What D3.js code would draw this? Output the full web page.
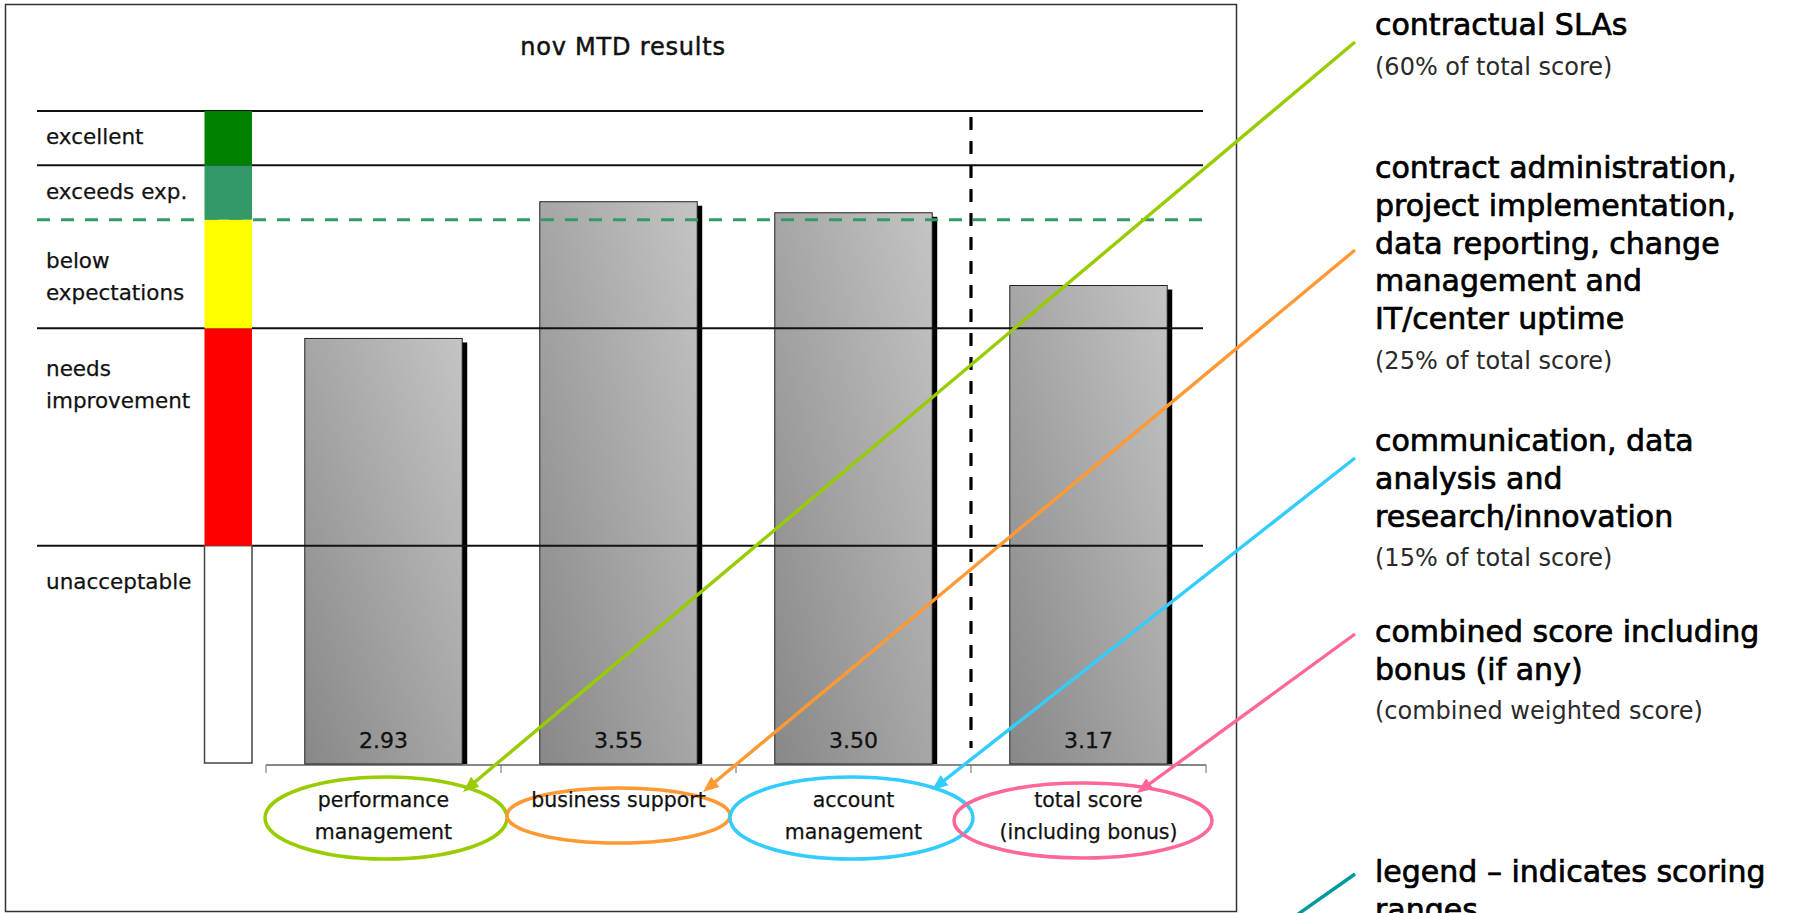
<!DOCTYPE html>
<html>
<head>
<meta charset="utf-8">
<script src="https://cdn.jsdelivr.net/npm/d3@7"></script>
<style>
  html, body { margin: 0; padding: 0; background: #fff; overflow: hidden; }
  svg { display: block; font-family: "DejaVu Sans", Verdana, sans-serif; }
</style>
</head>
<body>
<svg id="chart" width="1805" height="913"></svg>
<script>
// ---- data ----
const chartTitle = "nov MTD results";
const categories = ["performance management", "business support", "account management", "total score (including bonus)"];
const categoryLines = [["performance", "management"], ["business support"], ["account", "management"], ["total score", "(including bonus)"]];
const scores = [2.93, 3.55, 3.50, 3.17];

// scoring ranges, low to high
const bandNames = [["unacceptable"], ["needs", "improvement"], ["below", "expectations"], ["exceeds exp."], ["excellent"]];
const bandBreaks = [1, 2, 3, 3.5, 3.75, 4];
const bandColors = ["#ffffff", "#ff0000", "#ffff00", "#339966", "#008000"];
const targetScore = 3.5;

// notes on the right, one per category plus the scoring legend
const noteHeads = [
  ["contractual SLAs"],
  ["contract administration,", "project implementation,", "data reporting, change", "management and", "IT/center uptime"],
  ["communication, data", "analysis and", "research/innovation"],
  ["combined score including", "bonus (if any)"],
  ["legend – indicates scoring", "ranges"]
];
const noteSubs = ["(60% of total score)", "(25% of total score)", "(15% of total score)", "(combined weighted score)", ""];
const noteColors = ["#99cc00", "#ff9933", "#33ccff", "#ff6699", "#009999"];

// ---- layout ----
const svg = d3.select("#chart");
const defs = svg.append("defs");

const x = d3.scaleBand().domain(categories).range([266, 1206]).paddingInner(0.33).paddingOuter(0.165);
const y = d3.scaleLinear().domain([1, 4]).range([764, 102.5]);      // bar values
const yBand = d3.scaleLinear().domain([1, 4]).range([763, 111]);    // scoring ranges overlay
const baseY = y(1);
const gap = (x.step() - x.bandwidth()) / 2;
const cx = c => x(c) + x.bandwidth() / 2;

const ellipseLayout = [
  { dx: 2.5, cy: 818, rx: 121, ry: 41 },
  { dx: 0, cy: 815.5, rx: 111.5, ry: 27.5 },
  { dx: -2, cy: 818, rx: 121.5, ry: 41 },
  { dx: -5.5, cy: 820.5, rx: 129, ry: 37.5 }
];
const noteX = 1375, lineStartX = 1355;
const noteTop = [35, 178, 451, 642, 882];
const noteLineStartY = [42, 250, 458, 634, 874];
const arrowTip = [
  { dx: 79.5, y: 792 }, { dx: 84.5, y: 792 }, { dx: 78.5, y: 790 }, { dx: 48.5, y: 793 }
];

// frame
svg.append("rect").attr("x", 5.5).attr("y", 4.5).attr("width", 1231).attr("height", 907)
  .attr("fill", "#fff").attr("stroke", "#333").attr("stroke-width", 1.5);

// title
svg.append("text").attr("x", 623).attr("y", 55).attr("text-anchor", "middle")
  .attr("font-size", 24).attr("letter-spacing", 0.8).attr("fill", "#111")
  .attr("stroke", "#111").attr("stroke-width", 0.5).text(chartTitle);

// bar gradient
const grad = defs.append("linearGradient").attr("id", "barFill")
  .attr("x1", 0).attr("y1", 1).attr("x2", 1).attr("y2", 0);
grad.append("stop").attr("offset", 0).attr("stop-color", "#888888");
grad.append("stop").attr("offset", 1).attr("stop-color", "#c4c4c4");

// bars with drop shadow
const bars = svg.append("g");
bars.selectAll("rect.shadow").data(scores).join("rect").attr("class", "shadow")
  .attr("x", (d, i) => x(categories[i]) + 5)
  .attr("y", d => y(d) + 4)
  .attr("width", x.bandwidth())
  .attr("height", d => baseY - y(d) - 4)
  .attr("fill", "#000");
bars.selectAll("rect.bar").data(scores).join("rect").attr("class", "bar")
  .attr("x", (d, i) => x(categories[i]))
  .attr("y", d => y(d))
  .attr("width", x.bandwidth())
  .attr("height", d => baseY - y(d))
  .attr("fill", "url(#barFill)").attr("stroke", "#222").attr("stroke-width", 1);

// scoring range boundaries
const lineX0 = 37, lineX1 = 1203;
svg.append("g").selectAll("line").data(bandBreaks.filter(b => b !== bandBreaks[0] && b !== targetScore)).join("line")
  .attr("x1", lineX0).attr("x2", lineX1)
  .attr("y1", d => yBand(d)).attr("y2", d => yBand(d))
  .attr("stroke", "#111").attr("stroke-width", 2);
svg.append("line").attr("x1", lineX0).attr("x2", 1207)
  .attr("y1", yBand(targetScore)).attr("y2", yBand(targetScore))
  .attr("stroke", "#339966").attr("stroke-width", 3).attr("stroke-dasharray", "13 11");

// colour key column
const keyX = 204.5, keyW = 47.5;
const bandData = bandNames.map((n, i) => ({ name: n, lo: bandBreaks[i], hi: bandBreaks[i + 1], color: bandColors[i] }));
svg.append("g").selectAll("rect").data(bandData).join("rect")
  .attr("x", keyX).attr("width", keyW)
  .attr("y", d => yBand(d.hi))
  .attr("height", d => yBand(d.lo) - yBand(d.hi))
  .attr("fill", d => d.color)
  .attr("stroke", (d, i) => i === 0 ? "#444" : "none")
  .attr("stroke-width", 1.5);

// range labels
const labelOffsets = [43, 48, 48, 34, 33];
svg.append("g").selectAll("text").data(bandData).join("text")
  .attr("x", 46).attr("y", (d, i) => yBand(d.hi) + labelOffsets[i])
  .attr("font-size", 21.5).attr("fill", "#111").attr("stroke", "#111").attr("stroke-width", 0.25)
  .each(function (d) {
    d3.select(this).selectAll("tspan").data(d.name).join("tspan")
      .attr("x", 46).attr("dy", (t, j) => j ? 32 : 0).text(t => t);
  });

// value labels
svg.append("g").selectAll("text").data(scores).join("text")
  .attr("x", (d, i) => cx(categories[i])).attr("y", 748)
  .attr("text-anchor", "middle").attr("font-size", 22).attr("fill", "#111")
  .attr("stroke", "#111").attr("stroke-width", 0.3)
  .text(d3.format(".2f"));

// category axis with boundary ticks
const axisY = baseY + 1;
const bounds = categories.map(c => x(c) - gap).concat([x(categories[categories.length - 1]) + x.bandwidth() + gap]);
svg.append("line").attr("x1", bounds[0]).attr("x2", bounds[bounds.length - 1])
  .attr("y1", axisY).attr("y2", axisY).attr("stroke", "#111").attr("stroke-width", 1.2);
svg.append("g").selectAll("line").data(bounds).join("line")
  .attr("x1", d => d).attr("x2", d => d).attr("y1", axisY).attr("y2", axisY + 8)
  .attr("stroke", "#666").attr("stroke-width", 1);

// divider before the total score
const divX = x(categories[3]) - gap;
svg.append("line").attr("x1", divX).attr("x2", divX).attr("y1", 117).attr("y2", 748)
  .attr("stroke", "#000").attr("stroke-width", 3.2).attr("stroke-dasharray", "13 11");

// circled category labels
const cat = svg.append("g");
categories.forEach((c, i) => {
  const e = ellipseLayout[i];
  cat.append("ellipse").attr("cx", cx(c) + e.dx).attr("cy", e.cy).attr("rx", e.rx).attr("ry", e.ry)
    .attr("fill", "none").attr("stroke", noteColors[i]).attr("stroke-width", 3.5);
  const t = cat.append("text").attr("text-anchor", "middle").attr("font-size", 20.5).attr("fill", "#111")
    .attr("stroke", "#111").attr("stroke-width", 0.25).attr("y", 807);
  t.selectAll("tspan").data(categoryLines[i]).join("tspan")
    .attr("x", cx(c)).attr("dy", (d, j) => j ? 32 : 0).text(d => d);
});

// arrow heads
noteColors.forEach((col, i) => {
  defs.append("marker").attr("id", "arrow" + i)
    .attr("viewBox", "0 -7 16 14").attr("refX", 2).attr("refY", 0)
    .attr("markerWidth", 16).attr("markerHeight", 14)
    .attr("markerUnits", "userSpaceOnUse").attr("orient", "auto")
    .append("path").attr("d", "M0,-6.5L16,0L0,6.5Z").attr("fill", col);
});

// callout lines from notes to categories
const callouts = svg.append("g");
categories.forEach((c, i) => {
  const x1 = lineStartX, y1 = noteLineStartY[i];
  const tx = cx(c) + arrowTip[i].dx, ty = arrowTip[i].y;
  const len = Math.hypot(tx - x1, ty - y1);
  const ux = (tx - x1) / len, uy = (ty - y1) / len;
  callouts.append("line").attr("x1", x1).attr("y1", y1)
    .attr("x2", tx - ux * 14).attr("y2", ty - uy * 14)
    .attr("stroke", noteColors[i]).attr("stroke-width", 3.4)
    .attr("marker-end", "url(#arrow" + i + ")");
});
// legend pointer runs off the page
callouts.append("line").attr("x1", lineStartX).attr("y1", noteLineStartY[4])
  .attr("x2", 1250).attr("y2", 948)
  .attr("stroke", noteColors[4]).attr("stroke-width", 3.4);

// notes text
const notes = svg.append("g");
noteHeads.forEach((lines, i) => {
  const head = notes.append("text").attr("x", noteX).attr("y", noteTop[i])
    .attr("font-size", 30).attr("fill", "#000").attr("stroke", "#000").attr("stroke-width", 0.7);
  head.selectAll("tspan").data(lines).join("tspan")
    .attr("x", noteX).attr("dy", (d, j) => j ? 37.8 : 0).text(d => d);
  if (noteSubs[i]) {
    notes.append("text").attr("x", noteX).attr("y", noteTop[i] + (lines.length - 1) * 37.8 + 39.5)
      .attr("font-size", 24).attr("fill", "#2a2a2a").text(noteSubs[i]);
  }
});
</script>
</body>
</html>
